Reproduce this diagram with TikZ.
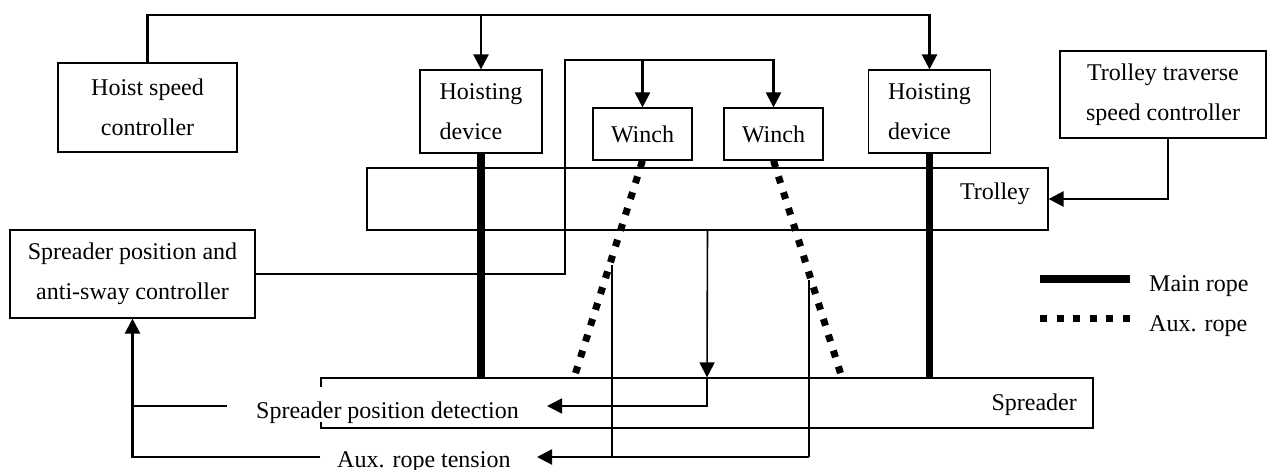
\documentclass[tikz,border=0pt]{standalone}
\usepackage{fontspec}
\setmainfont{Liberation Serif}
\usetikzlibrary{arrows.meta,calc}
\begin{document}
\begin{tikzpicture}[x=1pt,y=-1pt,
  font=\fontsize{24}{40}\selectfont,
  box/.style={draw,line width=1.2pt,inner sep=0pt,align=center},
  lbl/.style={inner sep=0pt},
  conn/.style={line width=2.4pt},
  thinconn/.style={line width=1.6pt},
  arr/.style={-{Triangle[length=15pt,width=15pt]}},
  mainrope/.style={line width=7.5pt},
  auxrope/.style={line width=7pt,dash pattern=on 7pt off 9.6pt}]
\useasboundingbox (0,0) rectangle (1267,470);
% boxes
\node[box,minimum width=179,minimum height=89] (hsc) at (147.5,107.5) {Hoist speed\\controller};
\node[box,minimum width=122,minimum height=83,align=left] (hdL) at (481,111.5) {Hoisting\\device};
\node[box,minimum width=99,minimum height=52] (w1) at (642.5,134) {Winch};
\node[box,minimum width=99,minimum height=52] (w2) at (773.5,134) {Winch};
\node[box,minimum width=122,minimum height=83,align=left] (hdR) at (929.5,111.5) {Hoisting\\device};
\node[box,minimum width=206,minimum height=87] (ttc) at (1163,94.5) {Trolley traverse\\speed controller};
\node[box,minimum width=681,minimum height=62] (trolley) at (707.5,199) {};
\node[lbl,anchor=base east] (trolleyt) at (1030,200) {Trolley};
\node[box,minimum width=245,minimum height=88] (ctrl) at (132.5,274) {Spreader position and\\anti-sway controller};
\node[box,minimum width=772,minimum height=50] (spreader) at (707,403) {};
\node[lbl,anchor=base east] (spreadert) at (1077,410) {Spreader};
\node[lbl,anchor=base west,fill=white,text height=31pt,text depth=4pt] (spd) at (256,418) {Spreader position detection};
\node[lbl,anchor=base west] (auxt) at (337,467) {Aux. rope tension};
% hoist speed connectors
\coordinate (top) at (0,15);
\draw[conn,arr] (hsc.north) |- (hdR.north |- top) -- (hdR.north);
\draw[conn,arr] (hdL.north |- top) -- (hdL.north);
% winch connectors
\coordinate (wj) at (565,60);
\draw[conn,arr] (ctrl.east) -| (wj) -| (w2.north);
\draw[conn,arr] (w1.north |- wj) -- (w1.north);
% trolley traverse
\draw[conn,arr] ([xshift=5pt]ttc.south) |- (trolley.east);
% spreader position detection
\coordinate (sdtip) at (547,406);
\draw[thinconn,arr] (trolley.south) -- (spreader.north);
\draw[thinconn,arr] (spreader.north) |- (sdtip);
\coordinate (stub) at (227,406);
\draw[conn] (stub) -- (stub -| ctrl.south);
\coordinate (auxl) at (320,457);
\draw[conn,arr] (auxl) -| (ctrl.south);
% aux rope tension
\coordinate (a1) at (612,265);
\coordinate (a2) at (809,280);
\coordinate (atip) at (537,457);
\draw[thinconn] (a1) -- (a1 |- atip);
\draw[thinconn] (a2) -- (a2 |- atip);
\draw[conn,arr] (a2 |- atip) -- (atip);
% ropes
\coordinate (r1) at (574,378);
\coordinate (r2) at (842,378);
\draw[mainrope] (hdL.south) -- (hdL.south |- spreader.north);
\draw[mainrope] (hdR.south) -- (hdR.south |- spreader.north);
\draw[auxrope] (w1.south) -- (r1);
\draw[auxrope] (w2.south) -- (r2);
% legend
\coordinate (lm1) at (1040,279);
\coordinate (lm2) at (1130,279);
\draw[mainrope] (lm1) -- (lm2);
\node[lbl,anchor=base west] (lmt) at (1149,292) {Main rope};
\coordinate (la1) at (1040,319);
\coordinate (la2) at (1130,319);
\draw[auxrope] (la1) -- (la2);
\node[lbl,anchor=base west] (lat) at (1149,332) {Aux. rope};
\end{tikzpicture}
\end{document}
